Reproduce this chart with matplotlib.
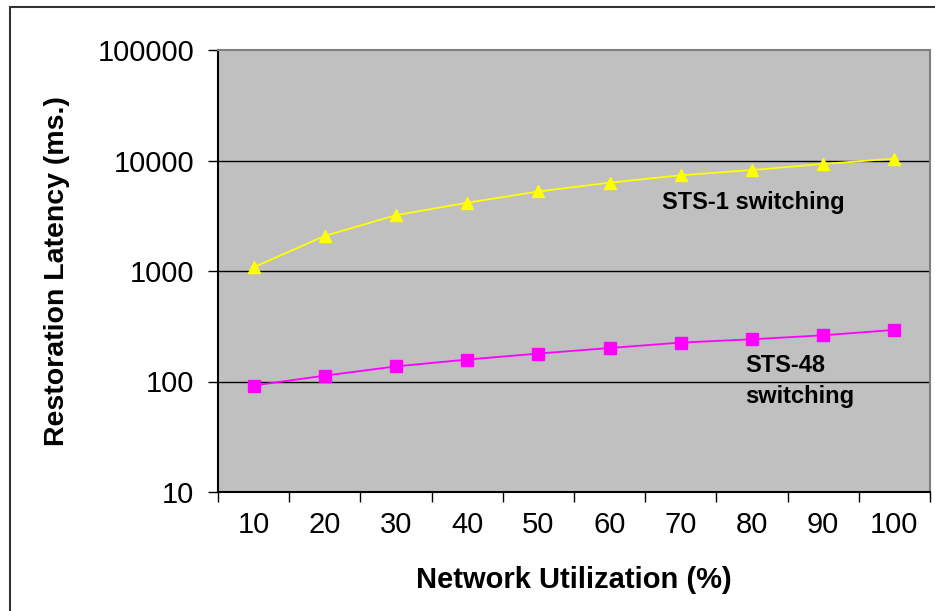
import numpy as np
import matplotlib.pyplot as plt
from matplotlib.patches import Rectangle

plt.rcParams['font.family'] = ['Liberation Sans', 'DejaVu Sans']

# data
utilization = [10, 20, 30, 40, 50, 60, 70, 80, 90, 100]
sts1 = [1080, 2080, 3200, 4150, 5250, 6300, 7350, 8200, 9300, 10400]
sts48 = [92, 113, 137, 158, 179, 201, 225, 241, 262, 293]
y_ticks = [10, 100, 1000, 10000, 100000]

fig = plt.figure(figsize=(9.35, 6.11), dpi=100)
ax = fig.add_axes([218 / 935, 1 - 492 / 611, (930 - 218) / 935, (492 - 50) / 611])
ax.set_facecolor('#C0C0C0')

x = np.arange(len(utilization))
ax.plot(x, sts1, color='#FFFF00', lw=1.3, marker='^', ms=9, mec='#FFFF00', zorder=3)
ax.plot(x, sts48, color='#FF00FF', lw=1.3, marker='s', ms=8, mec='#FF00FF', zorder=3)

ax.set_yscale('log')
ax.set_ylim(10, 100000)
ax.set_yticks(y_ticks)
ax.set_yticklabels([str(v) for v in y_ticks], fontsize=21)
ax.yaxis.set_minor_locator(plt.NullLocator())
for v in y_ticks[1:-1]:
    ax.axhline(v, color='black', lw=1, zorder=1)

ax.set_xlim(-0.5, len(utilization) - 0.5)
ax.set_xticks(np.arange(len(utilization) + 1) - 0.5)
ax.set_xticklabels([])
ax.set_xticks(x, minor=True)
ax.set_xticklabels([str(u) for u in utilization], minor=True, fontsize=21)
ax.tick_params(axis='x', which='minor', length=0, pad=14)
ax.tick_params(axis='both', which='major', direction='out', length=7, width=1)
ax.tick_params(axis='y', pad=10)

ax.spines['left'].set_color('black')
ax.spines['bottom'].set_color('black')
ax.spines['top'].set_color('#808080')
ax.spines['right'].set_color('#808080')
for s in ax.spines.values():
    s.set_linewidth(1.5)

ax.set_xlabel('Network Utilization (%)', fontsize=21, fontweight='bold', labelpad=19)
ax.set_ylabel('Restoration Latency (ms.)', fontsize=20.5, fontweight='bold', labelpad=20)

ax.text(662 / 935, 1 - 202 / 611, 'STS-1 switching', transform=fig.transFigure,
        fontsize=17, fontweight='bold', va='center', ha='left')
ax.text(745 / 935, 1 - 381 / 611, 'STS-48\nswitching', transform=fig.transFigure,
        fontsize=17, fontweight='bold', va='center', ha='left', linespacing=1.45)

# outer chart border (cut off on the right and bottom in the reference)
fig.patches.append(Rectangle((10 / 935, -0.1), 1.2, 1 - 7 / 611 + 0.1,
                             transform=fig.transFigure, fill=False,
                             edgecolor='#333333', lw=1.5))

fig.savefig('out.png', dpi=100)
